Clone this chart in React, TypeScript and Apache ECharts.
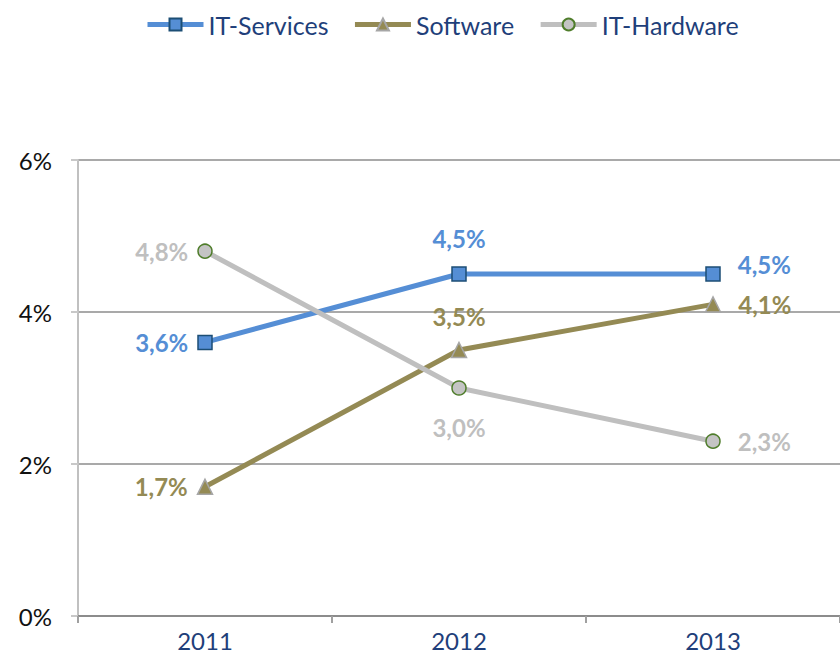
import React, { useEffect, useRef } from "react";
import * as echarts from "echarts";

const years = ["2011", "2012", "2013"];
const itServices = [3.6, 4.5, 4.5];
const software = [1.7, 3.5, 4.1];
const itHardware = [4.8, 3.0, 2.3];
const yTicks = [0, 2, 4, 6];

const fmt = (v: number) => v.toFixed(1).replace(".", ",") + "%";
const FONT = "Lato, 'Open Sans', sans-serif";

export default function App() {
  const ref = useRef<HTMLDivElement>(null);
  useEffect(() => {
    if (!ref.current) return;
    const chart = echarts.init(ref.current, undefined, { renderer: "svg" });
    const lbl = (color: string, pos: string, extra: any = {}) => ({
      show: true,
      position: pos,
      color,
      fontSize: 24,
      fontWeight: "bold",
      fontFamily: FONT,
      formatter: (p: any) => fmt(p.value),
      ...extra,
    });
    const mkData = (vals: number[], labels: any[]) =>
      vals.map((v, i) => ({ value: v, label: labels[i] }));
    chart.setOption({
      animation: false,
      textStyle: { fontFamily: FONT },
      legend: {
        top: 7,
        left: 140,
        itemWidth: 56,
        itemHeight: 15,
        itemGap: 24,
        textStyle: { color: "#1f3f7a", fontSize: 25, fontFamily: FONT },
        data: [
          { name: "IT-Services", lineStyle: { width: 5 } },
          { name: "Software", lineStyle: { width: 5 } },
          { name: "IT-Hardware", lineStyle: { width: 5 } },
        ],
      },
      grid: { left: 78, top: 160, width: 774, height: 456, containLabel: false },
      xAxis: {
        type: "category",
        data: years,
        boundaryGap: true,
        axisLine: { lineStyle: { color: "#8c8c8c", width: 2 } },
        axisTick: { show: true, interval: 0, length: 7, lineStyle: { color: "#a0a0a0", width: 2 } },
        axisLabel: { color: "#1f3f7a", fontSize: 24, margin: 12, fontFamily: FONT },
        splitLine: { show: false },
      },
      yAxis: {
        type: "value",
        min: yTicks[0],
        max: yTicks[yTicks.length - 1],
        interval: 2,
        axisLine: { show: true, lineStyle: { color: "#c0c0c0", width: 2 } },
        axisTick: { show: true, length: 7, lineStyle: { color: "#c8c8c8", width: 2 } },
        axisLabel: { color: "#111", fontSize: 24, margin: 26, fontFamily: FONT, formatter: "{value}%" },
        splitLine: { show: true, lineStyle: { color: "#8c8c8c", width: 1.5 } },
      },
      series: [
        {
          name: "IT-Services",
          type: "line",
          data: mkData(itServices, [
            lbl("#558ed5", "left", { distance: 9 }),
            lbl("#558ed5", "top", { distance: 16 }),
            lbl("#558ed5", "right", { distance: 17, offset: [0, -10] }),
          ]),
          symbol: "rect",
          symbolSize: 14,
          lineStyle: { color: "#558ed5", width: 5 },
          itemStyle: { color: "#558ed5", borderColor: "#1c4e75", borderWidth: 1.5 },
        },
        {
          name: "Software",
          type: "line",
          data: mkData(software, [
            lbl("#948a54", "left", { distance: 9 }),
            lbl("#948a54", "top", { distance: 13 }),
            lbl("#948a54", "right", { distance: 17 }),
          ]),
          symbol: "triangle",
          symbolSize: 15,
          lineStyle: { color: "#948a54", width: 5 },
          itemStyle: { color: "#948a54", borderColor: "#a6a6a6", borderWidth: 1.5 },
        },
        {
          name: "IT-Hardware",
          type: "line",
          data: mkData(itHardware, [
            lbl("#bfbfbf", "left", { distance: 9 }),
            lbl("#bfbfbf", "bottom", { distance: 20 }),
            lbl("#bfbfbf", "right", { distance: 17 }),
          ]),
          symbol: "circle",
          symbolSize: 14,
          lineStyle: { color: "#bfbfbf", width: 5 },
          itemStyle: { color: "#c4c4c4", borderColor: "#4f7d2b", borderWidth: 1.5 },
        },
      ],
    });
    return () => chart.dispose();
  }, []);
  return (
    <div
      ref={ref}
      style={{ position: "fixed", left: 0, top: 0, width: 840, height: 656, background: "#fff" }}
    />
  );
}
